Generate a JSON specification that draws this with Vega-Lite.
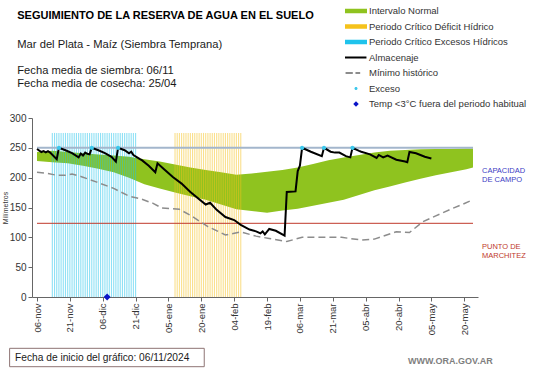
{
  "$schema": "https://vega.github.io/schema/vega-lite/v6.json",
  "width": 446,
  "height": 179,
  "autosize": {"type": "none"},
  "padding": {"left": 32, "top": 118, "right": 63, "bottom": 71},
  "background": "white",
  "datasets": {
    "normal": [
      {"fecha": "2024-11-06", "sup": 243, "inf": 228, "serie": "Intervalo Normal"},
      {"fecha": "2024-11-13", "sup": 245, "inf": 226, "serie": "Intervalo Normal"},
      {"fecha": "2024-11-20", "sup": 243, "inf": 224, "serie": "Intervalo Normal"},
      {"fecha": "2024-11-27", "sup": 241, "inf": 220, "serie": "Intervalo Normal"},
      {"fecha": "2024-12-04", "sup": 239, "inf": 215, "serie": "Intervalo Normal"},
      {"fecha": "2024-12-11", "sup": 237, "inf": 209, "serie": "Intervalo Normal"},
      {"fecha": "2024-12-18", "sup": 235, "inf": 200, "serie": "Intervalo Normal"},
      {"fecha": "2024-12-25", "sup": 231, "inf": 189, "serie": "Intervalo Normal"},
      {"fecha": "2025-01-01", "sup": 227, "inf": 182, "serie": "Intervalo Normal"},
      {"fecha": "2025-01-08", "sup": 222, "inf": 175, "serie": "Intervalo Normal"},
      {"fecha": "2025-01-15", "sup": 217, "inf": 169, "serie": "Intervalo Normal"},
      {"fecha": "2025-01-22", "sup": 213, "inf": 163, "serie": "Intervalo Normal"},
      {"fecha": "2025-01-29", "sup": 209, "inf": 155, "serie": "Intervalo Normal"},
      {"fecha": "2025-02-05", "sup": 205, "inf": 147, "serie": "Intervalo Normal"},
      {"fecha": "2025-02-12", "sup": 207, "inf": 144, "serie": "Intervalo Normal"},
      {"fecha": "2025-02-19", "sup": 210, "inf": 141, "serie": "Intervalo Normal"},
      {"fecha": "2025-02-26", "sup": 213, "inf": 145, "serie": "Intervalo Normal"},
      {"fecha": "2025-03-05", "sup": 217, "inf": 148, "serie": "Intervalo Normal"},
      {"fecha": "2025-03-12", "sup": 223, "inf": 153, "serie": "Intervalo Normal"},
      {"fecha": "2025-03-19", "sup": 229, "inf": 158, "serie": "Intervalo Normal"},
      {"fecha": "2025-03-26", "sup": 234, "inf": 163, "serie": "Intervalo Normal"},
      {"fecha": "2025-04-02", "sup": 238, "inf": 171, "serie": "Intervalo Normal"},
      {"fecha": "2025-04-09", "sup": 242, "inf": 179, "serie": "Intervalo Normal"},
      {"fecha": "2025-04-16", "sup": 245, "inf": 185, "serie": "Intervalo Normal"},
      {"fecha": "2025-04-23", "sup": 246.5, "inf": 192, "serie": "Intervalo Normal"},
      {"fecha": "2025-04-30", "sup": 247.5, "inf": 198, "serie": "Intervalo Normal"},
      {"fecha": "2025-05-07", "sup": 248, "inf": 204, "serie": "Intervalo Normal"},
      {"fecha": "2025-05-14", "sup": 248, "inf": 209, "serie": "Intervalo Normal"},
      {"fecha": "2025-05-21", "sup": 249, "inf": 214, "serie": "Intervalo Normal"},
      {"fecha": "2025-05-24", "sup": 249, "inf": 217, "serie": "Intervalo Normal"}
    ],
    "periodos": [
      {"fecha": "2024-11-13", "mm": 275, "serie": "Periodo Crítico Excesos Hídricos"},
      {"fecha": "2024-11-14", "mm": 275, "serie": "Periodo Crítico Excesos Hídricos"},
      {"fecha": "2024-11-15", "mm": 275, "serie": "Periodo Crítico Excesos Hídricos"},
      {"fecha": "2024-11-16", "mm": 275, "serie": "Periodo Crítico Excesos Hídricos"},
      {"fecha": "2024-11-17", "mm": 275, "serie": "Periodo Crítico Excesos Hídricos"},
      {"fecha": "2024-11-18", "mm": 275, "serie": "Periodo Crítico Excesos Hídricos"},
      {"fecha": "2024-11-19", "mm": 275, "serie": "Periodo Crítico Excesos Hídricos"},
      {"fecha": "2024-11-20", "mm": 275, "serie": "Periodo Crítico Excesos Hídricos"},
      {"fecha": "2024-11-21", "mm": 275, "serie": "Periodo Crítico Excesos Hídricos"},
      {"fecha": "2024-11-22", "mm": 275, "serie": "Periodo Crítico Excesos Hídricos"},
      {"fecha": "2024-11-23", "mm": 275, "serie": "Periodo Crítico Excesos Hídricos"},
      {"fecha": "2024-11-24", "mm": 275, "serie": "Periodo Crítico Excesos Hídricos"},
      {"fecha": "2024-11-25", "mm": 275, "serie": "Periodo Crítico Excesos Hídricos"},
      {"fecha": "2024-11-26", "mm": 275, "serie": "Periodo Crítico Excesos Hídricos"},
      {"fecha": "2024-11-27", "mm": 275, "serie": "Periodo Crítico Excesos Hídricos"},
      {"fecha": "2024-11-28", "mm": 275, "serie": "Periodo Crítico Excesos Hídricos"},
      {"fecha": "2024-11-29", "mm": 275, "serie": "Periodo Crítico Excesos Hídricos"},
      {"fecha": "2024-11-30", "mm": 275, "serie": "Periodo Crítico Excesos Hídricos"},
      {"fecha": "2024-12-01", "mm": 275, "serie": "Periodo Crítico Excesos Hídricos"},
      {"fecha": "2024-12-02", "mm": 275, "serie": "Periodo Crítico Excesos Hídricos"},
      {"fecha": "2024-12-03", "mm": 275, "serie": "Periodo Crítico Excesos Hídricos"},
      {"fecha": "2024-12-04", "mm": 275, "serie": "Periodo Crítico Excesos Hídricos"},
      {"fecha": "2024-12-05", "mm": 275, "serie": "Periodo Crítico Excesos Hídricos"},
      {"fecha": "2024-12-06", "mm": 275, "serie": "Periodo Crítico Excesos Hídricos"},
      {"fecha": "2024-12-07", "mm": 275, "serie": "Periodo Crítico Excesos Hídricos"},
      {"fecha": "2024-12-08", "mm": 275, "serie": "Periodo Crítico Excesos Hídricos"},
      {"fecha": "2024-12-09", "mm": 275, "serie": "Periodo Crítico Excesos Hídricos"},
      {"fecha": "2024-12-10", "mm": 275, "serie": "Periodo Crítico Excesos Hídricos"},
      {"fecha": "2024-12-11", "mm": 275, "serie": "Periodo Crítico Excesos Hídricos"},
      {"fecha": "2024-12-12", "mm": 275, "serie": "Periodo Crítico Excesos Hídricos"},
      {"fecha": "2024-12-13", "mm": 275, "serie": "Periodo Crítico Excesos Hídricos"},
      {"fecha": "2024-12-14", "mm": 275, "serie": "Periodo Crítico Excesos Hídricos"},
      {"fecha": "2024-12-15", "mm": 275, "serie": "Periodo Crítico Excesos Hídricos"},
      {"fecha": "2024-12-16", "mm": 275, "serie": "Periodo Crítico Excesos Hídricos"},
      {"fecha": "2024-12-17", "mm": 275, "serie": "Periodo Crítico Excesos Hídricos"},
      {"fecha": "2024-12-18", "mm": 275, "serie": "Periodo Crítico Excesos Hídricos"},
      {"fecha": "2024-12-19", "mm": 275, "serie": "Periodo Crítico Excesos Hídricos"},
      {"fecha": "2024-12-20", "mm": 275, "serie": "Periodo Crítico Excesos Hídricos"},
      {"fecha": "2024-12-21", "mm": 275, "serie": "Periodo Crítico Excesos Hídricos"},
      {"fecha": "2025-01-08", "mm": 275, "serie": "Periodo Crítico Déficit Hídrico"},
      {"fecha": "2025-01-09", "mm": 275, "serie": "Periodo Crítico Déficit Hídrico"},
      {"fecha": "2025-01-10", "mm": 275, "serie": "Periodo Crítico Déficit Hídrico"},
      {"fecha": "2025-01-11", "mm": 275, "serie": "Periodo Crítico Déficit Hídrico"},
      {"fecha": "2025-01-12", "mm": 275, "serie": "Periodo Crítico Déficit Hídrico"},
      {"fecha": "2025-01-13", "mm": 275, "serie": "Periodo Crítico Déficit Hídrico"},
      {"fecha": "2025-01-14", "mm": 275, "serie": "Periodo Crítico Déficit Hídrico"},
      {"fecha": "2025-01-15", "mm": 275, "serie": "Periodo Crítico Déficit Hídrico"},
      {"fecha": "2025-01-16", "mm": 275, "serie": "Periodo Crítico Déficit Hídrico"},
      {"fecha": "2025-01-17", "mm": 275, "serie": "Periodo Crítico Déficit Hídrico"},
      {"fecha": "2025-01-18", "mm": 275, "serie": "Periodo Crítico Déficit Hídrico"},
      {"fecha": "2025-01-19", "mm": 275, "serie": "Periodo Crítico Déficit Hídrico"},
      {"fecha": "2025-01-20", "mm": 275, "serie": "Periodo Crítico Déficit Hídrico"},
      {"fecha": "2025-01-21", "mm": 275, "serie": "Periodo Crítico Déficit Hídrico"},
      {"fecha": "2025-01-22", "mm": 275, "serie": "Periodo Crítico Déficit Hídrico"},
      {"fecha": "2025-01-23", "mm": 275, "serie": "Periodo Crítico Déficit Hídrico"},
      {"fecha": "2025-01-24", "mm": 275, "serie": "Periodo Crítico Déficit Hídrico"},
      {"fecha": "2025-01-25", "mm": 275, "serie": "Periodo Crítico Déficit Hídrico"},
      {"fecha": "2025-01-26", "mm": 275, "serie": "Periodo Crítico Déficit Hídrico"},
      {"fecha": "2025-01-27", "mm": 275, "serie": "Periodo Crítico Déficit Hídrico"},
      {"fecha": "2025-01-28", "mm": 275, "serie": "Periodo Crítico Déficit Hídrico"},
      {"fecha": "2025-01-29", "mm": 275, "serie": "Periodo Crítico Déficit Hídrico"},
      {"fecha": "2025-01-30", "mm": 275, "serie": "Periodo Crítico Déficit Hídrico"},
      {"fecha": "2025-01-31", "mm": 275, "serie": "Periodo Crítico Déficit Hídrico"},
      {"fecha": "2025-02-01", "mm": 275, "serie": "Periodo Crítico Déficit Hídrico"},
      {"fecha": "2025-02-02", "mm": 275, "serie": "Periodo Crítico Déficit Hídrico"},
      {"fecha": "2025-02-03", "mm": 275, "serie": "Periodo Crítico Déficit Hídrico"},
      {"fecha": "2025-02-04", "mm": 275, "serie": "Periodo Crítico Déficit Hídrico"},
      {"fecha": "2025-02-05", "mm": 275, "serie": "Periodo Crítico Déficit Hídrico"},
      {"fecha": "2025-02-06", "mm": 275, "serie": "Periodo Crítico Déficit Hídrico"},
      {"fecha": "2025-02-07", "mm": 275, "serie": "Periodo Crítico Déficit Hídrico"}
    ],
    "niveles": [
      {"nivel": "Capacidad de campo", "mm": 250, "rotulo": "CAPACIDAD\nDE  CAMPO"},
      {"nivel": "Punto de marchitez", "mm": 123.5, "rotulo": "PUNTO  DE\nMARCHITEZ"}
    ],
    "minimo": [
      {"fecha": "2024-11-06", "mm": 209, "serie": "Mínimo histórico"},
      {"fecha": "2024-11-11", "mm": 207, "serie": "Mínimo histórico"},
      {"fecha": "2024-11-15", "mm": 204, "serie": "Mínimo histórico"},
      {"fecha": "2024-11-19", "mm": 204, "serie": "Mínimo histórico"},
      {"fecha": "2024-11-22", "mm": 206, "serie": "Mínimo histórico"},
      {"fecha": "2024-11-26", "mm": 202, "serie": "Mínimo histórico"},
      {"fecha": "2024-12-03", "mm": 193, "serie": "Mínimo histórico"},
      {"fecha": "2024-12-11", "mm": 182, "serie": "Mínimo histórico"},
      {"fecha": "2024-12-18", "mm": 169, "serie": "Mínimo histórico"},
      {"fecha": "2024-12-23", "mm": 165, "serie": "Mínimo histórico"},
      {"fecha": "2024-12-29", "mm": 157, "serie": "Mínimo histórico"},
      {"fecha": "2025-01-02", "mm": 149, "serie": "Mínimo histórico"},
      {"fecha": "2025-01-10", "mm": 147, "serie": "Mínimo histórico"},
      {"fecha": "2025-01-15", "mm": 137, "serie": "Mínimo histórico"},
      {"fecha": "2025-01-23", "mm": 118, "serie": "Mínimo histórico"},
      {"fecha": "2025-01-31", "mm": 104, "serie": "Mínimo histórico"},
      {"fecha": "2025-02-07", "mm": 109, "serie": "Mínimo histórico"},
      {"fecha": "2025-02-14", "mm": 102, "serie": "Mínimo histórico"},
      {"fecha": "2025-02-20", "mm": 98, "serie": "Mínimo histórico"},
      {"fecha": "2025-02-28", "mm": 93, "serie": "Mínimo histórico"},
      {"fecha": "2025-03-07", "mm": 100, "serie": "Mínimo histórico"},
      {"fecha": "2025-03-16", "mm": 100, "serie": "Mínimo histórico"},
      {"fecha": "2025-03-25", "mm": 100, "serie": "Mínimo histórico"},
      {"fecha": "2025-04-03", "mm": 95.5, "serie": "Mínimo histórico"},
      {"fecha": "2025-04-09", "mm": 97, "serie": "Mínimo histórico"},
      {"fecha": "2025-04-19", "mm": 109.5, "serie": "Mínimo histórico"},
      {"fecha": "2025-04-25", "mm": 108, "serie": "Mínimo histórico"},
      {"fecha": "2025-05-01", "mm": 126, "serie": "Mínimo histórico"},
      {"fecha": "2025-05-07", "mm": 136, "serie": "Mínimo histórico"},
      {"fecha": "2025-05-15", "mm": 149, "serie": "Mínimo histórico"},
      {"fecha": "2025-05-19", "mm": 155, "serie": "Mínimo histórico"},
      {"fecha": "2025-05-24", "mm": 163, "serie": "Mínimo histórico"}
    ],
    "almacenaje": [
      {"fecha": "2024-11-06", "mm": 248, "serie": "Almacenaje"},
      {"fecha": "2024-11-08", "mm": 243, "serie": "Almacenaje"},
      {"fecha": "2024-11-09", "mm": 244.5, "serie": "Almacenaje"},
      {"fecha": "2024-11-10", "mm": 242.5, "serie": "Almacenaje"},
      {"fecha": "2024-11-11", "mm": 244.5, "serie": "Almacenaje"},
      {"fecha": "2024-11-12", "mm": 242, "serie": "Almacenaje"},
      {"fecha": "2024-11-15", "mm": 231, "serie": "Almacenaje"},
      {"fecha": "2024-11-16", "mm": 250, "serie": "Almacenaje"},
      {"fecha": "2024-11-19", "mm": 246, "serie": "Almacenaje"},
      {"fecha": "2024-11-22", "mm": 241, "serie": "Almacenaje"},
      {"fecha": "2024-11-25", "mm": 234, "serie": "Almacenaje"},
      {"fecha": "2024-11-26", "mm": 240.5, "serie": "Almacenaje"},
      {"fecha": "2024-11-27", "mm": 237, "serie": "Almacenaje"},
      {"fecha": "2024-11-28", "mm": 242, "serie": "Almacenaje"},
      {"fecha": "2024-11-29", "mm": 240, "serie": "Almacenaje"},
      {"fecha": "2024-11-30", "mm": 239, "serie": "Almacenaje"},
      {"fecha": "2024-12-01", "mm": 250, "serie": "Almacenaje"},
      {"fecha": "2024-12-04", "mm": 246, "serie": "Almacenaje"},
      {"fecha": "2024-12-07", "mm": 241, "serie": "Almacenaje"},
      {"fecha": "2024-12-10", "mm": 235, "serie": "Almacenaje"},
      {"fecha": "2024-12-12", "mm": 227, "serie": "Almacenaje"},
      {"fecha": "2024-12-13", "mm": 250, "serie": "Almacenaje"},
      {"fecha": "2024-12-16", "mm": 246, "serie": "Almacenaje"},
      {"fecha": "2024-12-18", "mm": 241, "serie": "Almacenaje"},
      {"fecha": "2024-12-19", "mm": 243.5, "serie": "Almacenaje"},
      {"fecha": "2024-12-20", "mm": 238, "serie": "Almacenaje"},
      {"fecha": "2024-12-23", "mm": 231, "serie": "Almacenaje"},
      {"fecha": "2024-12-24", "mm": 229, "serie": "Almacenaje"},
      {"fecha": "2024-12-27", "mm": 220, "serie": "Almacenaje"},
      {"fecha": "2024-12-30", "mm": 209, "serie": "Almacenaje"},
      {"fecha": "2024-12-31", "mm": 224, "serie": "Almacenaje"},
      {"fecha": "2025-01-03", "mm": 214, "serie": "Almacenaje"},
      {"fecha": "2025-01-07", "mm": 201, "serie": "Almacenaje"},
      {"fecha": "2025-01-11", "mm": 190, "serie": "Almacenaje"},
      {"fecha": "2025-01-15", "mm": 176, "serie": "Almacenaje"},
      {"fecha": "2025-01-22", "mm": 155, "serie": "Almacenaje"},
      {"fecha": "2025-01-24", "mm": 158, "serie": "Almacenaje"},
      {"fecha": "2025-01-27", "mm": 146, "serie": "Almacenaje"},
      {"fecha": "2025-01-31", "mm": 134, "serie": "Almacenaje"},
      {"fecha": "2025-02-04", "mm": 129, "serie": "Almacenaje"},
      {"fecha": "2025-02-07", "mm": 121, "serie": "Almacenaje"},
      {"fecha": "2025-02-11", "mm": 113, "serie": "Almacenaje"},
      {"fecha": "2025-02-14", "mm": 110, "serie": "Almacenaje"},
      {"fecha": "2025-02-16", "mm": 106.7, "serie": "Almacenaje"},
      {"fecha": "2025-02-17", "mm": 110, "serie": "Almacenaje"},
      {"fecha": "2025-02-18", "mm": 105, "serie": "Almacenaje"},
      {"fecha": "2025-02-20", "mm": 114, "serie": "Almacenaje"},
      {"fecha": "2025-02-23", "mm": 111, "serie": "Almacenaje"},
      {"fecha": "2025-02-27", "mm": 103, "serie": "Almacenaje"},
      {"fecha": "2025-02-28", "mm": 176, "serie": "Almacenaje"},
      {"fecha": "2025-03-04", "mm": 177, "serie": "Almacenaje"},
      {"fecha": "2025-03-05", "mm": 211, "serie": "Almacenaje"},
      {"fecha": "2025-03-06", "mm": 220, "serie": "Almacenaje"},
      {"fecha": "2025-03-07", "mm": 250, "serie": "Almacenaje"},
      {"fecha": "2025-03-11", "mm": 243.5, "serie": "Almacenaje"},
      {"fecha": "2025-03-16", "mm": 236, "serie": "Almacenaje"},
      {"fecha": "2025-03-17", "mm": 250, "serie": "Almacenaje"},
      {"fecha": "2025-03-20", "mm": 243.5, "serie": "Almacenaje"},
      {"fecha": "2025-03-22", "mm": 242, "serie": "Almacenaje"},
      {"fecha": "2025-03-24", "mm": 242, "serie": "Almacenaje"},
      {"fecha": "2025-03-27", "mm": 236, "serie": "Almacenaje"},
      {"fecha": "2025-03-29", "mm": 234, "serie": "Almacenaje"},
      {"fecha": "2025-03-30", "mm": 250, "serie": "Almacenaje"},
      {"fecha": "2025-04-02", "mm": 245, "serie": "Almacenaje"},
      {"fecha": "2025-04-03", "mm": 243.5, "serie": "Almacenaje"},
      {"fecha": "2025-04-07", "mm": 239, "serie": "Almacenaje"},
      {"fecha": "2025-04-10", "mm": 233, "serie": "Almacenaje"},
      {"fecha": "2025-04-11", "mm": 238, "serie": "Almacenaje"},
      {"fecha": "2025-04-13", "mm": 234, "serie": "Almacenaje"},
      {"fecha": "2025-04-15", "mm": 237, "serie": "Almacenaje"},
      {"fecha": "2025-04-19", "mm": 230, "serie": "Almacenaje"},
      {"fecha": "2025-04-23", "mm": 227, "serie": "Almacenaje"},
      {"fecha": "2025-04-24", "mm": 226, "serie": "Almacenaje"},
      {"fecha": "2025-04-25", "mm": 243, "serie": "Almacenaje"},
      {"fecha": "2025-04-28", "mm": 241, "serie": "Almacenaje"},
      {"fecha": "2025-05-02", "mm": 235, "serie": "Almacenaje"},
      {"fecha": "2025-05-05", "mm": 232, "serie": "Almacenaje"}
    ],
    "exceso": [
      {"fecha": "2024-11-16", "mm": 250, "serie": "Exceso"},
      {"fecha": "2024-12-01", "mm": 250, "serie": "Exceso"},
      {"fecha": "2024-12-13", "mm": 250, "serie": "Exceso"},
      {"fecha": "2025-03-07", "mm": 250, "serie": "Exceso"},
      {"fecha": "2025-03-17", "mm": 250, "serie": "Exceso"},
      {"fecha": "2025-03-30", "mm": 250, "serie": "Exceso"}
    ],
    "helada": [
      {"fecha": "2024-12-08", "mm": 0, "serie": "Temp <3°C fuera del periodo habitual"}
    ]
  },
  "encoding": {
    "color": {
      "field": "serie",
      "type": "nominal",
      "scale": {
        "domain": ["Intervalo Normal", "Periodo Crítico Déficit Hídrico", "Periodo Crítico Excesos Hídricos", "Almacenaje", "Mínimo histórico", "Exceso", "Temp <3°C fuera del periodo habitual"],
        "range": ["#8fc31f", "#f5c21b", "#1fc3ec", "#000000", "#8c8c8c", "#3cc8ec", "#0a14c8"]
      },
      "legend": {
        "title": null,
        "orient": "none",
        "legendX": 313,
        "legendY": -114.5,
        "padding": 0,
        "rowPadding": 0.5,
        "clipHeight": 15,
        "symbolSize": 484,
        "symbolStrokeWidth": 0,
        "symbolOpacity": 1,
        "labelFontSize": 9.5,
        "labelColor": "#333333",
        "labelOffset": 2,
        "labelLimit": 300
      }
    }
  },
  "layer": [
    {
      "data": {"name": "normal"},
      "mark": {"type": "area", "opacity": 1},
      "encoding": {
        "x": {
          "field": "fecha",
          "type": "temporal",
          "scale": {
            "type": "utc",
            "domain": [
              {"year": 2024, "month": 11, "date": 6, "utc": true},
              {"year": 2025, "month": 5, "date": 24, "utc": true}
            ]
          },
          "axis": {
            "title": null,
            "tickCount": 40,
            "values": [
              {"year": 2024, "month": 11, "date": 6, "utc": true},
              {"year": 2024, "month": 11, "date": 21, "utc": true},
              {"year": 2024, "month": 12, "date": 6, "utc": true},
              {"year": 2024, "month": 12, "date": 21, "utc": true},
              {"year": 2025, "month": 1, "date": 5, "utc": true},
              {"year": 2025, "month": 1, "date": 20, "utc": true},
              {"year": 2025, "month": 2, "date": 4, "utc": true},
              {"year": 2025, "month": 2, "date": 19, "utc": true},
              {"year": 2025, "month": 3, "date": 6, "utc": true},
              {"year": 2025, "month": 3, "date": 21, "utc": true},
              {"year": 2025, "month": 4, "date": 5, "utc": true},
              {"year": 2025, "month": 4, "date": 20, "utc": true},
              {"year": 2025, "month": 5, "date": 5, "utc": true},
              {"year": 2025, "month": 5, "date": 20, "utc": true}
            ],
            "format": "%d-%b",
            "labelAngle": -90
          }
        },
        "y": {
          "field": "sup",
          "type": "quantitative",
          "scale": {"domain": [0, 300]},
          "axis": {
            "title": "Milímetros",
            "tickCount": 20,
            "values": [0, 50, 100, 150, 200, 250, 300]
          }
        },
        "y2": {"field": "inf"}
      }
    },
    {
      "data": {"name": "periodos"},
      "mark": {"type": "bar", "width": 1.1, "opacity": 0.5},
      "encoding": {
        "x": {"field": "fecha", "type": "temporal"},
        "y": {"field": "mm", "type": "quantitative", "stack": null}
      }
    },
    {
      "data": {"name": "niveles"},
      "mark": {"type": "rule"},
      "encoding": {
        "x": {"datum": {"year": 2024, "month": 11, "date": 6, "utc": true}, "type": "temporal"},
        "x2": {"datum": {"year": 2025, "month": 5, "date": 24, "utc": true}},
        "y": {"field": "mm", "type": "quantitative"},
        "color": {"condition": {"test": "datum.nivel === 'Capacidad de campo'", "value": "#a3b6cc"}, "value": "#c0392b"},
        "strokeWidth": {"condition": {"test": "datum.nivel === 'Capacidad de campo'", "value": 2}, "value": 1}
      }
    },
    {
      "data": {"name": "minimo"},
      "mark": {"type": "line", "strokeWidth": 1.5, "strokeDash": [7, 4]},
      "encoding": {
        "x": {"field": "fecha", "type": "temporal"},
        "y": {"field": "mm", "type": "quantitative"}
      }
    },
    {
      "data": {"name": "almacenaje"},
      "mark": {"type": "line", "strokeWidth": 2},
      "encoding": {
        "x": {"field": "fecha", "type": "temporal"},
        "y": {"field": "mm", "type": "quantitative"}
      }
    },
    {
      "data": {"name": "exceso"},
      "mark": {"type": "point", "filled": true, "size": 990, "opacity": 1, "strokeWidth": 0},
      "encoding": {
        "x": {"field": "fecha", "type": "temporal"},
        "y": {"field": "mm", "type": "quantitative"},
        "shape": {
          "field": "serie",
          "type": "nominal",
          "scale": {
            "domain": ["Intervalo Normal", "Periodo Crítico Déficit Hídrico", "Periodo Crítico Excesos Hídricos", "Almacenaje", "Mínimo histórico", "Exceso", "Temp <3°C fuera del periodo habitual"],
            "range": [
              "M-1,-0.2H1V0.2H-1Z",
              "M-1,-0.2H1V0.2H-1Z",
              "M-1,-0.2H1V0.2H-1Z",
              "M-1,-0.09H0.95V0.09H-1Z",
              "M-0.95,-0.09H-0.29V0.09H-0.95ZM-0.05,-0.09H0.38V0.09H-0.05Z",
              "M-0.14,0A0.14,0.14,0,1,1,0.14,0A0.14,0.14,0,1,1,-0.14,0Z",
              "M0,-0.25L0.25,0L0,0.25L-0.25,0Z"
            ]
          }
        }
      }
    },
    {
      "data": {"name": "helada"},
      "mark": {"type": "point", "filled": true, "size": 784, "opacity": 1, "strokeWidth": 0},
      "encoding": {
        "x": {"field": "fecha", "type": "temporal"},
        "y": {"field": "mm", "type": "quantitative"},
        "shape": {"field": "serie", "type": "nominal"}
      }
    },
    {
      "data": {"name": "niveles"},
      "mark": {"type": "text", "align": "left", "baseline": "alphabetic", "dx": 9, "dy": 25.5, "fontSize": 7.5, "lineBreak": "\n", "lineHeight": 9},
      "encoding": {
        "x": {"datum": {"year": 2025, "month": 5, "date": 24, "utc": true}, "type": "temporal"},
        "y": {"field": "mm", "type": "quantitative"},
        "text": {"field": "rotulo"},
        "color": {"condition": {"test": "datum.nivel === 'Capacidad de campo'", "value": "#3c3cc4"}, "value": "#c0392b"}
      }
    },
    {
      "data": {"values": [{"texto": "SEGUIMIENTO DE LA RESERVA DE AGUA  EN EL SUELO"}]},
      "mark": {"type": "text", "align": "left", "baseline": "alphabetic", "fontSize": 11, "fontWeight": "bold"},
      "encoding": {
        "x": {"datum": {"year": 2024, "month": 10, "date": 28, "utc": true}, "type": "temporal"},
        "y": {"datum": 465.4},
        "text": {"field": "texto"},
        "color": {"value": "#000000"}
      }
    },
    {
      "data": {"values": [{"texto": "Mar del Plata - Maíz (Siembra Temprana)"}]},
      "mark": {"type": "text", "align": "left", "baseline": "alphabetic", "fontSize": 11.2},
      "encoding": {
        "x": {"datum": {"year": 2024, "month": 10, "date": 28, "utc": true}, "type": "temporal"},
        "y": {"datum": 417.3},
        "text": {"field": "texto"},
        "color": {"value": "#1a1a1a"}
      }
    },
    {
      "data": {"values": [{}]},
      "mark": {"type": "text", "align": "left", "baseline": "alphabetic", "fontSize": 11.2, "lineHeight": 13},
      "encoding": {
        "x": {"datum": {"year": 2024, "month": 10, "date": 28, "utc": true}, "type": "temporal"},
        "y": {"datum": 373.7},
        "text": {"value": ["Fecha media de siembra: 06/11", "Fecha media de cosecha: 25/04"]},
        "color": {"value": "#1a1a1a"}
      }
    },
    {
      "data": {"values": [{}]},
      "mark": {"type": "rect", "fill": "transparent", "stroke": "#8e7474", "strokeWidth": 1},
      "encoding": {
        "x": {"datum": {"year": 2024, "month": 10, "date": 24, "hours": 12, "utc": true}, "type": "temporal"},
        "x2": {"datum": {"year": 2025, "month": 1, "date": 21, "hours": 8, "utc": true}},
        "y": {"datum": -86},
        "y2": {"datum": -116.8},
        "color": {"value": "transparent"}
      }
    },
    {
      "data": {"values": [{"texto": "Fecha de inicio del gráfico:  06/11/2024"}]},
      "mark": {"type": "text", "align": "left", "baseline": "alphabetic", "fontSize": 10.2},
      "encoding": {
        "x": {"datum": {"year": 2024, "month": 10, "date": 27, "utc": true}, "type": "temporal"},
        "y": {"datum": -108},
        "text": {"field": "texto"},
        "color": {"value": "#1a1a1a"}
      }
    },
    {
      "data": {"values": [{"texto": "WWW.ORA.GOV.AR"}]},
      "mark": {"type": "text", "align": "right", "baseline": "alphabetic", "fontSize": 9, "fontWeight": "bold"},
      "encoding": {
        "x": {"datum": {"year": 2025, "month": 6, "date": 2, "utc": true}, "type": "temporal"},
        "y": {"datum": -112.3},
        "text": {"field": "texto"},
        "color": {"value": "#808080"}
      }
    }
  ],
  "config": {
    "font": "Liberation Sans",
    "view": {"stroke": null},
    "axis": {
      "grid": false,
      "labelOverlap": false,
      "labelFlush": false,
      "labelColor": "#333333",
      "labelPadding": 2,
      "tickSize": 4,
      "tickColor": "#666666",
      "domainColor": "#666666"
    },
    "axisX": {
      "labelFontSize": 9.5,
      "labelAngle": -90
    },
    "axisY": {
      "labelFontSize": 10,
      "titleFontSize": 7,
      "titleFontWeight": "normal",
      "titleColor": "#333333",
      "titlePadding": 0.5
    },
    "locale": {
      "time": {
        "dateTime": "%A, %e de %B de %Y, %X",
        "date": "%d/%m/%Y",
        "time": "%H:%M:%S",
        "periods": ["AM", "PM"],
        "days": ["domingo", "lunes", "martes", "miércoles", "jueves", "viernes", "sábado"],
        "shortDays": ["dom", "lun", "mar", "mié", "jue", "vie", "sáb"],
        "months": ["enero", "febrero", "marzo", "abril", "mayo", "junio", "julio", "agosto", "septiembre", "octubre", "noviembre", "diciembre"],
        "shortMonths": ["ene", "feb", "mar", "abr", "may", "jun", "jul", "ago", "sep", "oct", "nov", "dic"]
      }
    }
  }
}
